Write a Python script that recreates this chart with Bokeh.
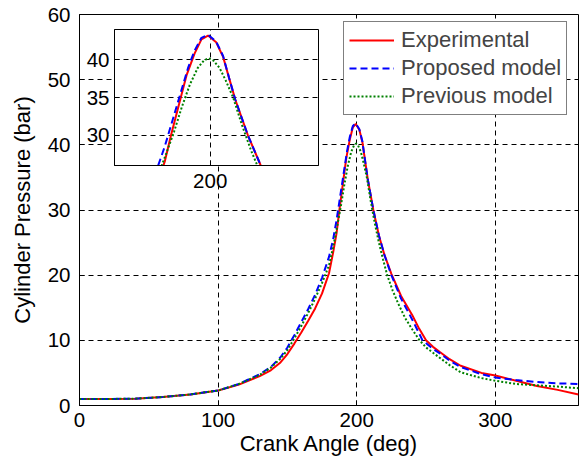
from bokeh.plotting import figure
from bokeh.models import Range1d, FixedTicker, Legend, LegendItem
from bokeh.embed import file_html
from bokeh.resources import INLINE

# ---- data ----
exp_angle = [0, 20, 40, 60, 80, 100, 115, 130, 138, 145, 150, 155, 160, 165, 170, 175, 180, 183, 185.5,
             187.5, 190, 192.5, 195, 197.2, 199.3, 201.9, 204.1, 206, 208, 212, 216, 220, 225, 232, 240,
             245, 250, 255, 260, 267, 275, 290, 300, 315, 330, 345, 360]
exp_pressure = [1.0, 1.0, 1.05, 1.3, 1.7, 2.3, 3.2, 4.5, 5.4, 6.6, 7.9, 9.5, 11.2, 13.0, 14.9, 17.2, 20.3,
                23.5, 26.5, 30.0, 34.0, 38.0, 40.8, 42.7, 43.2, 42.3, 40.4, 37.6, 34.7, 30.0, 26.1, 23.1,
                20.2, 16.8, 13.9, 11.8, 10.0, 9.0, 8.2, 7.1, 6.1, 5.0, 4.6, 3.8, 3.0, 2.4, 1.7]

prop_angle = [0, 20, 40, 60, 80, 100, 115, 130, 138, 145, 150, 155, 160, 165, 170, 175, 180, 183, 185.5,
              188, 190.5, 193, 195, 197.2, 199.3, 201.9, 204.1, 206, 208, 212, 216, 220, 225, 232, 240,
              247.5, 255, 260, 267, 275, 290, 300, 315, 330, 345, 360]
prop_pressure = [1.0, 1.0, 1.05, 1.3, 1.7, 2.3, 3.3, 4.8, 5.9, 7.4, 8.9, 10.8, 12.8, 14.8, 17.0, 19.6, 22.8,
                 25.5, 28.5, 32.0, 35.5, 39.0, 41.2, 42.9, 43.3, 42.4, 40.5, 37.6, 34.7, 30.0, 26.1, 23.1,
                 20.0, 16.4, 13.2, 10.0, 8.7, 8.0, 6.9, 5.9, 4.8, 4.3, 3.9, 3.6, 3.4, 3.3]

prev_angle = [0, 20, 40, 60, 80, 100, 115, 130, 138, 145, 150, 155, 160, 165, 170, 175, 180, 183, 186,
              188.5, 191, 193.5, 196, 198, 199.5, 201, 203, 205, 207.3, 210, 213, 216, 219, 222, 226, 230,
              235, 240, 245, 250, 260, 267, 275, 290, 300, 315, 330, 345, 360]
prev_pressure = [1.0, 1.0, 1.05, 1.3, 1.7, 2.3, 3.3, 4.7, 5.8, 7.2, 8.5, 10.3, 12.2, 14.2, 16.4, 18.8, 21.5,
                 24.3, 27.6, 30.5, 33.8, 36.7, 38.9, 39.9, 40.2, 39.9, 38.9, 37.2, 35.0, 31.5, 28.0, 25.0,
                 22.4, 20.0, 17.6, 15.6, 13.4, 11.7, 10.1, 8.9, 7.3, 6.2, 5.1, 4.2, 3.8, 3.3, 3.1, 2.9, 2.65]

series_names = ["Experimental", "Proposed model", "Previous model"]
x_ticks = [0, 100, 200, 300]
y_ticks = [0, 10, 20, 30, 40, 50, 60]
inset_x_ticks = [200]
inset_y_ticks = [30, 35, 40]

FONT = "Liberation Sans"

def style_axes(fig, tick_size):
    for ax in (fig.xaxis[0], fig.yaxis[0]):
        ax.major_label_text_font = FONT
        ax.major_label_text_font_size = tick_size
        ax.major_label_text_color = "black"
        ax.axis_label_text_font = FONT
        ax.axis_label_text_font_size = "22px"
        ax.axis_label_text_font_style = "normal"
        ax.axis_label_text_color = "black"
        ax.axis_line_color = "black"
        ax.major_tick_line_color = "black"
        ax.major_tick_in = 5
        ax.major_tick_out = 0
        ax.minor_tick_line_color = None
    for g in (fig.xgrid[0], fig.ygrid[0]):
        g.grid_line_color = "black"
        g.grid_line_dash = "5 4"
        g.grid_line_width = 1
    fig.outline_line_color = "black"
    fig.outline_line_alpha = 1


def add_series(fig):
    r1 = fig.line(exp_angle, exp_pressure, line_color="#ff0000", line_width=2)
    r2 = fig.line(prop_angle, prop_pressure, line_color="#0000ff", line_width=2, line_dash="7 4")
    r3 = fig.line(prev_angle, prev_pressure, line_color="#008000", line_width=2, line_dash="2 2")
    return [r1, r2, r3]

# ---- main figure ----
p = figure(width=579, height=464, output_backend="svg", toolbar_location=None,
           x_range=Range1d(0, 360), y_range=Range1d(0, 60),
           min_border_left=79, min_border_right=1, min_border_top=14, min_border_bottom=59,
           background_fill_color="white", border_fill_color="white")
p.xaxis.axis_label = "Crank Angle (deg)"
p.yaxis.axis_label = "Cylinder Pressure (bar)"
p.xaxis.ticker = FixedTicker(ticks=x_ticks)
p.yaxis.ticker = FixedTicker(ticks=y_ticks)
style_axes(p, "20.5px")
p.xaxis.major_label_standoff = 7
p.xaxis.axis_label_standoff = 1
p.yaxis.major_label_standoff = 9
p.yaxis.axis_label_standoff = 10

renderers = add_series(p)
legend = Legend(items=[LegendItem(label=n, renderers=[r]) for n, r in zip(series_names, renderers)],
                location=(264, 290), margin=0, padding=5, spacing=2,
                glyph_width=45, glyph_height=26, label_height=26, label_standoff=7,
                label_text_font=FONT, label_text_font_size="22px",
                border_line_color="black", border_line_width=1, background_fill_alpha=1)
p.add_layout(legend)

# ---- inset figure (separate root, placed over the main axes) ----
inset = figure(width=244, height=176, output_backend="svg", toolbar_location=None,
               x_range=Range1d(169.5, 234.5), y_range=Range1d(26, 44),
               min_border_left=36, min_border_right=4, min_border_top=8, min_border_bottom=32,
               background_fill_color="white", border_fill_color=None,
               styles={"position": "absolute", "left": "78px", "top": "21px"})
inset.xaxis.ticker = FixedTicker(ticks=inset_x_ticks)
inset.yaxis.ticker = FixedTicker(ticks=inset_y_ticks)
style_axes(inset, "20.5px")
inset.xaxis.major_label_standoff = 8
inset.yaxis.major_label_standoff = 5
add_series(inset)

open("out.html", "w").write(file_html([p, inset], INLINE))
